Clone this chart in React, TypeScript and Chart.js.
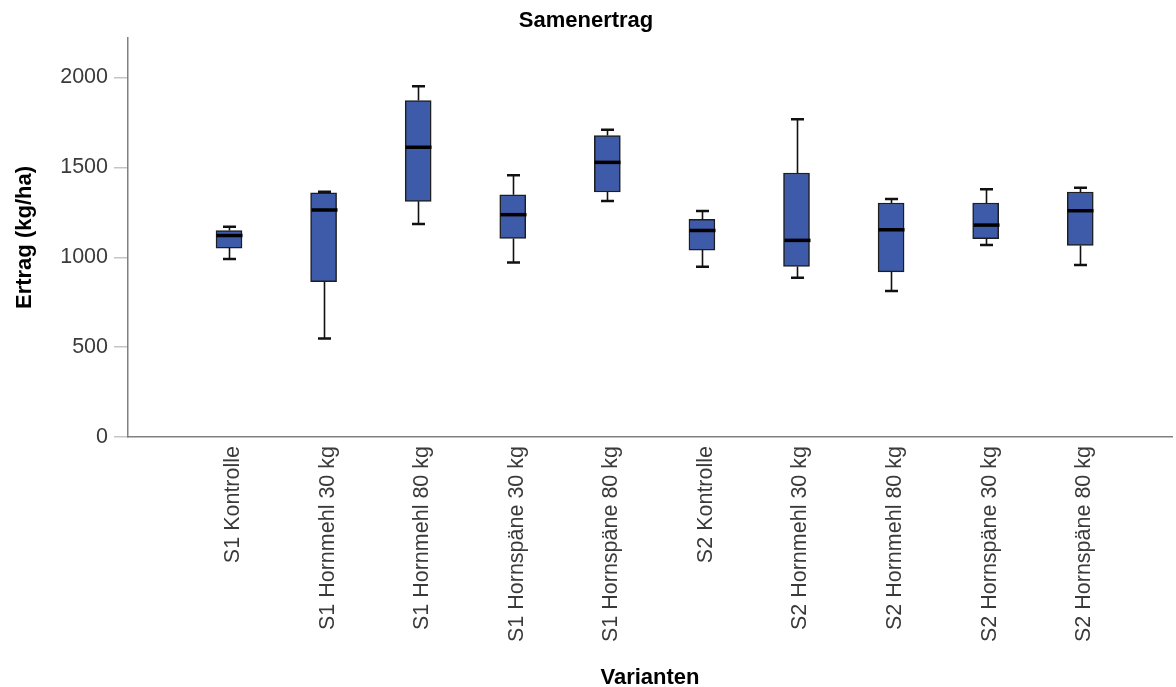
import React, { useEffect, useRef } from "react";
import { Chart, registerables } from "chart.js";

Chart.register(...registerables);

const categories = [
  "S1 Kontrolle",
  "S1 Hornmehl 30 kg",
  "S1 Hornmehl 80 kg",
  "S1 Hornspäne 30 kg",
  "S1 Hornspäne 80 kg",
  "S2 Kontrolle",
  "S2 Hornmehl 30 kg",
  "S2 Hornmehl 80 kg",
  "S2 Hornspäne 30 kg",
  "S2 Hornspäne 80 kg",
];
const whiskerLow = [990, 548, 1185, 971, 1313, 947, 886, 812, 1068, 957];
const q1 = [1051, 864, 1311, 1105, 1363, 1040, 949, 919, 1103, 1066];
const median = [1121, 1263, 1612, 1237, 1528, 1149, 1094, 1153, 1179, 1259];
const q3 = [1149, 1358, 1872, 1348, 1677, 1211, 1469, 1302, 1302, 1363];
const whiskerHigh = [1170, 1365, 1952, 1456, 1709, 1257, 1768, 1324, 1378, 1387];
const yTicks = [0, 500, 1000, 1500, 2000];

const FONT = 'Arial, "Liberation Sans", sans-serif';
const BOX_W = 26;
const CAP_W = 13;

const boxPlugin = {
  id: "boxWhiskers",
  afterDatasetsDraw(chart: any) {
    const { ctx, scales } = chart;
    const xs = scales.x;
    const ys = scales.y;
    ctx.save();
    for (let i = 0; i < categories.length; i++) {
      const x = Math.round(xs.getPixelForValue(i)) + 0.5;
      const yLo = ys.getPixelForValue(whiskerLow[i]);
      const yQ1 = ys.getPixelForValue(q1[i]);
      const yQ3 = ys.getPixelForValue(q3[i]);
      const yHi = ys.getPixelForValue(whiskerHigh[i]);
      const yMed = ys.getPixelForValue(median[i]);
      ctx.strokeStyle = "#111111";
      ctx.lineWidth = 1.6;
      ctx.beginPath();
      ctx.moveTo(x, yQ3);
      ctx.lineTo(x, yHi);
      ctx.moveTo(x, yQ1);
      ctx.lineTo(x, yLo);
      ctx.stroke();
      ctx.lineWidth = 2.5;
      ctx.beginPath();
      ctx.moveTo(x - CAP_W / 2, yHi);
      ctx.lineTo(x + CAP_W / 2, yHi);
      ctx.moveTo(x - CAP_W / 2, yLo);
      ctx.lineTo(x + CAP_W / 2, yLo);
      ctx.stroke();
      ctx.lineWidth = 3.5;
      ctx.strokeStyle = "#000000";
      ctx.beginPath();
      ctx.moveTo(x - BOX_W / 2, yMed);
      ctx.lineTo(x + BOX_W / 2, yMed);
      ctx.stroke();
    }
    ctx.restore();
  },
};

export default function App() {
  const ref = useRef<HTMLCanvasElement | null>(null);

  useEffect(() => {
    document.body.style.margin = "0";
    const canvas = ref.current;
    if (!canvas) return;
    const chart = new Chart(canvas, {
      type: "bar",
      data: {
        datasets: [
          {
            data: categories.map((_, i) => ({ x: i, y: [q1[i], q3[i]] })) as any,
            backgroundColor: "#3e5ba9",
            borderColor: "#1e1e1e",
            borderWidth: 1.5,
            borderSkipped: false,
            barThickness: BOX_W,
          },
        ],
      },
      options: {
        animation: false,
        responsive: false,
        maintainAspectRatio: false,
        layout: { padding: { left: 0, right: 4, top: 0, bottom: 0 } },
        plugins: {
          legend: { display: false },
          tooltip: { enabled: false },
          title: {
            display: true,
            text: "Samenertrag",
            color: "#000000",
            font: { family: FONT, size: 22, weight: "bold", lineHeight: 1.2 },
            padding: { top: 8, bottom: 3.6 },
          },
        },
        scales: {
          x: {
            type: "linear",
            offset: false,
            min: -1.068,
            max: 9.97,
            afterBuildTicks: (scale: any) => {
              scale.ticks = categories.map((_, i) => ({ value: i }));
            },
            afterFit: (scale: any) => {
              scale.height = 250;
            },
            ticks: {
              autoSkip: false,
              minRotation: 90,
              maxRotation: 90,
              padding: 9,
              labelOffset: 4,
              color: "#3a3a3a",
              font: { family: FONT, size: 21.5 },
              callback: (v: any) => categories[v as number] ?? "",
            },
            grid: { display: true, drawOnChartArea: false, drawTicks: false },
            border: { display: true, color: "#808080", width: 1.5 },
            title: {
              display: true,
              text: "Varianten",
              color: "#000000",
              font: { family: FONT, size: 22, weight: "bold", lineHeight: 1 },
              padding: { top: 0, bottom: -2 },
            },
          },
          y: {
            type: "linear",
            min: 0,
            max: 2220,
            afterBuildTicks: (scale: any) => {
              scale.ticks = yTicks.map((v) => ({ value: v }));
            },
            afterFit: (scale: any) => {
              scale.width = 128;
            },
            ticks: {
              padding: 6,
              color: "#3a3a3a",
              font: { family: FONT, size: 21.5 },
              callback: (v: any) => String(v),
            },
            grid: {
              display: true,
              drawOnChartArea: false,
              drawTicks: true,
              tickLength: 14,
              color: "#c4c4c4",
              lineWidth: 1.5,
            },
            border: { display: true, color: "#808080", width: 1.5 },
            title: {
              display: true,
              text: "Ertrag (kg/ha)",
              color: "#000000",
              font: { family: FONT, size: 22, weight: "bold", lineHeight: 1.2 },
              padding: { top: 12, bottom: 0 },
            },
          },
        },
      },
      plugins: [boxPlugin],
    } as any);
    return () => chart.destroy();
  }, []);

  return (
    <div style={{ width: 1176, height: 687, background: "#ffffff" }}>
      <canvas ref={ref} width={1176} height={687} style={{ display: "block" }} />
    </div>
  );
}
